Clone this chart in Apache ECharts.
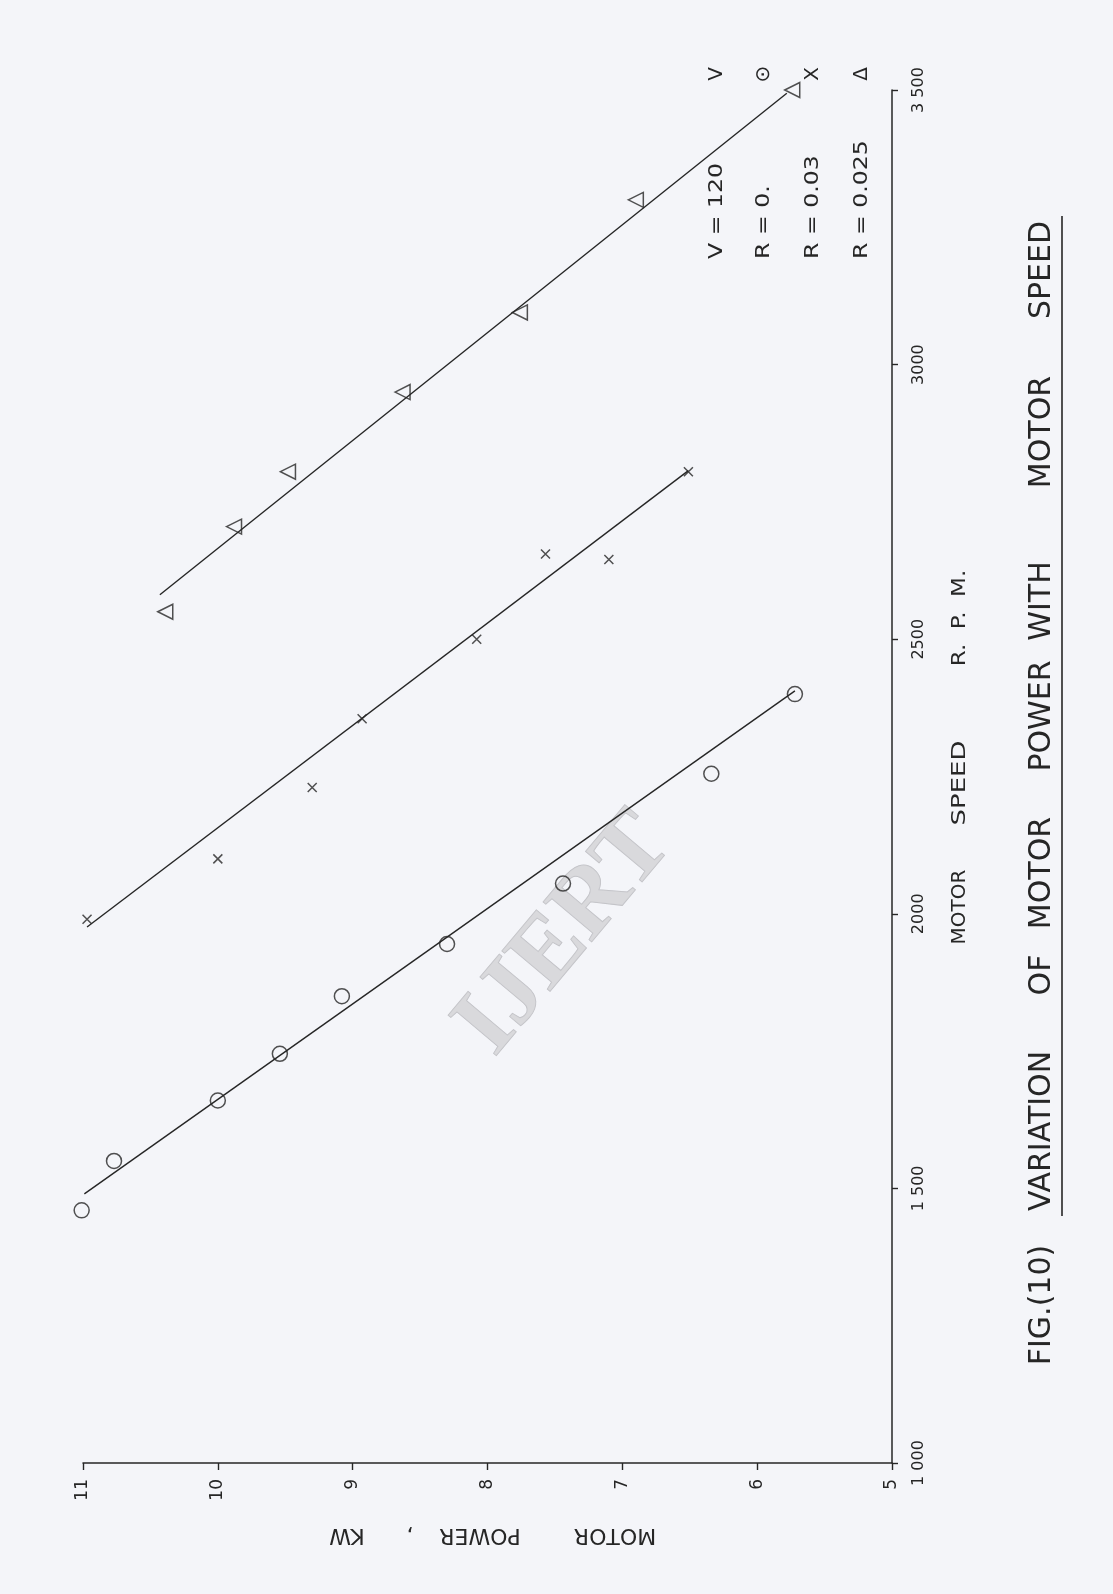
<!DOCTYPE html>
<html>
<head>
<meta charset="utf-8">
<title>Variation of motor power with motor speed</title>
<script src="https://cdn.jsdelivr.net/npm/echarts@6/dist/echarts.min.js"></script>
<style>
  html, body { margin: 0; padding: 0; background: #f4f5f9; }
  #chart { width: 1113px; height: 1594px; }
</style>
</head>
<body>
<div id="chart"></div>
<script>
// Tick labels for both axes
const speedTicks = ['1 000', '1 500', '2000', '2500', '3000', '3 500'];
const powerTicks = ['5', '6', '7', '8', '9', '10', '11'];

// Measured points, V = 120
// R = 0 (circles)
const circlePower = [11.01, 10.77, 10.00, 9.54, 9.08, 8.30, 7.44, 6.34, 5.72];
const circleSpeed = [1460, 1550, 1660, 1745, 1850, 1945, 2055, 2255, 2400];
// R = 0.03 (crosses)
const crossPower = [10.97, 10.00, 9.30, 8.93, 8.08, 7.57, 7.10, 6.51];
const crossSpeed = [1990, 2100, 2230, 2355, 2500, 2655, 2645, 2805];
// R = 0.025 (triangles)
const trianglePower = [10.39, 9.88, 9.48, 8.63, 7.76, 6.90, 5.74];
const triangleSpeed = [2550, 2705, 2805, 2950, 3095, 3300, 3500];

// Fitted straight lines (end points)
const circleLinePower = [10.99, 5.72];
const circleLineSpeed = [1490, 2406];
const crossLinePower = [10.97, 6.51];
const crossLineSpeed = [1976, 2807];
const triangleLinePower = [10.43, 5.78];
const triangleLineSpeed = [2581, 3494];

// Key text
const keyLabels = ['V = 120', 'R = 0.', 'R = 0.03', 'R = 0.025'];
const keySymbols = ['V', '\u2299', 'X', '\u0394'];

// Title words
const titleWords = ['FIG.(10)', 'VARIATION', 'OF', 'MOTOR', 'POWER', 'WITH', 'MOTOR', 'SPEED'];
const speedTitleWords = ['MOTOR', 'SPEED', 'R.  P.  M.'];
const powerTitleWords = ['MOTOR', 'POWER', ',', 'KW'];

const INK = '#262626';
const FONT = '"DejaVu Sans", sans-serif';
const UP = Math.PI / 2;

function pairs(xs, ys) { return xs.map((x, i) => [x, ys[i]]); }

const chart = echarts.init(document.getElementById('chart'), null, { renderer: 'canvas' });

const graphic = [];

// Title, reading bottom to top along the right edge
const titleCenters = [1305, 1131, 975, 873, 716, 601, 432, 270];
titleWords.forEach((w, i) => {
  graphic.push({
    type: 'text', x: 1042, y: titleCenters[i], rotation: UP,
    style: { text: w, font: '30px ' + FONT, fill: INK, align: 'center', verticalAlign: 'middle' }
  });
});
graphic.push({
  type: 'line', shape: { x1: 1062, y1: 1216, x2: 1062, y2: 216 },
  style: { stroke: INK, lineWidth: 1.6 }
});

// Speed axis title (words spread out along the axis)
const speedTitleCenters = [907, 783, 618];
const speedTitleStretch = [1.0, 1.3, 1.15];
speedTitleWords.forEach((w, i) => {
  graphic.push({
    type: 'text', x: 960, y: speedTitleCenters[i], rotation: UP, scaleX: speedTitleStretch[i],
    style: { text: w, font: '20px ' + FONT, fill: INK, align: 'center', verticalAlign: 'middle' }
  });
});

// Power axis title (upside down)
const powerTitleCenters = [615, 480, 410, 347];
powerTitleWords.forEach((w, i) => {
  graphic.push({
    type: 'text', x: powerTitleCenters[i], y: 1535, rotation: Math.PI,
    style: { text: w, font: '22px ' + FONT, fill: INK, align: 'center', verticalAlign: 'middle' }
  });
});

// Key at the top
const keyColumns = [717, 764, 813, 862];
keyLabels.forEach((t, i) => {
  graphic.push({
    type: 'text', x: keyColumns[i], y: 259, rotation: UP, scaleX: 1.18,
    style: { text: t, font: '20px ' + FONT, fill: INK, align: 'left', verticalAlign: 'middle' }
  });
  graphic.push({
    type: 'text', x: keyColumns[i], y: 74, rotation: UP,
    style: { text: keySymbols[i], font: '20px ' + FONT, fill: INK, align: 'center', verticalAlign: 'middle' }
  });
});

// Publisher watermark
graphic.push({
  type: 'text', x: 565, y: 935, rotation: 50 * Math.PI / 180, z: -1,
  style: {
    text: 'IJERT', font: 'bold 96px "Liberation Serif", serif',
    fill: 'rgba(205,205,208,0.7)', stroke: 'rgba(175,175,180,0.75)', lineWidth: 1,
    align: 'center', verticalAlign: 'middle'
  }
});

const lineStyle = { color: INK, width: 1.4 };
const hollow = { color: 'rgba(0,0,0,0)', borderColor: INK, borderWidth: 1.5 };

chart.setOption({
  backgroundColor: '#f4f5f9',
  animation: false,
  grid: { left: 83, right: 221, top: 90, bottom: 131, containLabel: false },
  xAxis: {
    type: 'value', min: 5, max: 11, interval: 1, inverse: true, position: 'bottom',
    axisLine: { lineStyle: { color: INK, width: 1.5 } },
    axisTick: { length: 7, lineStyle: { color: INK, width: 1.4 } },
    splitLine: { show: false },
    axisLabel: {
      rotate: 90, margin: 16, color: INK, fontSize: 17, fontFamily: 'DejaVu Sans',
      formatter: v => powerTicks[Math.round(v - 5)]
    }
  },
  yAxis: {
    type: 'value', min: 1000, max: 3500, interval: 500, position: 'right',
    axisLine: { show: true, lineStyle: { color: INK, width: 1.5 } },
    axisTick: { show: true, length: 6, lineStyle: { color: INK, width: 1.4 } },
    splitLine: { show: false },
    axisLabel: {
      rotate: 90, margin: 19, color: INK, fontSize: 16, fontFamily: 'DejaVu Sans',
      formatter: v => speedTicks[Math.round((v - 1000) / 500)]
    }
  },
  graphic: graphic,
  series: [
    { type: 'line', data: pairs(circleLinePower, circleLineSpeed), showSymbol: false, lineStyle, silent: true, clip: false },
    { type: 'line', data: pairs(crossLinePower, crossLineSpeed), showSymbol: false, lineStyle, silent: true, clip: false },
    { type: 'line', data: pairs(triangleLinePower, triangleLineSpeed), showSymbol: false, lineStyle, silent: true, clip: false },
    { type: 'scatter', name: 'R = 0', data: pairs(circlePower, circleSpeed), clip: false,
      symbol: 'circle', symbolSize: 15, itemStyle: hollow },
    { type: 'scatter', name: 'R = 0.03', data: pairs(crossPower, crossSpeed), clip: false,
      symbol: 'path://M0,0L10,10M10,0L0,10', symbolSize: 9, itemStyle: hollow },
    { type: 'scatter', name: 'R = 0.025', data: pairs(trianglePower, triangleSpeed), clip: false,
      symbol: 'triangle', symbolSize: 15, symbolRotate: 90, itemStyle: hollow }
  ]
});
</script>
</body>
</html>
